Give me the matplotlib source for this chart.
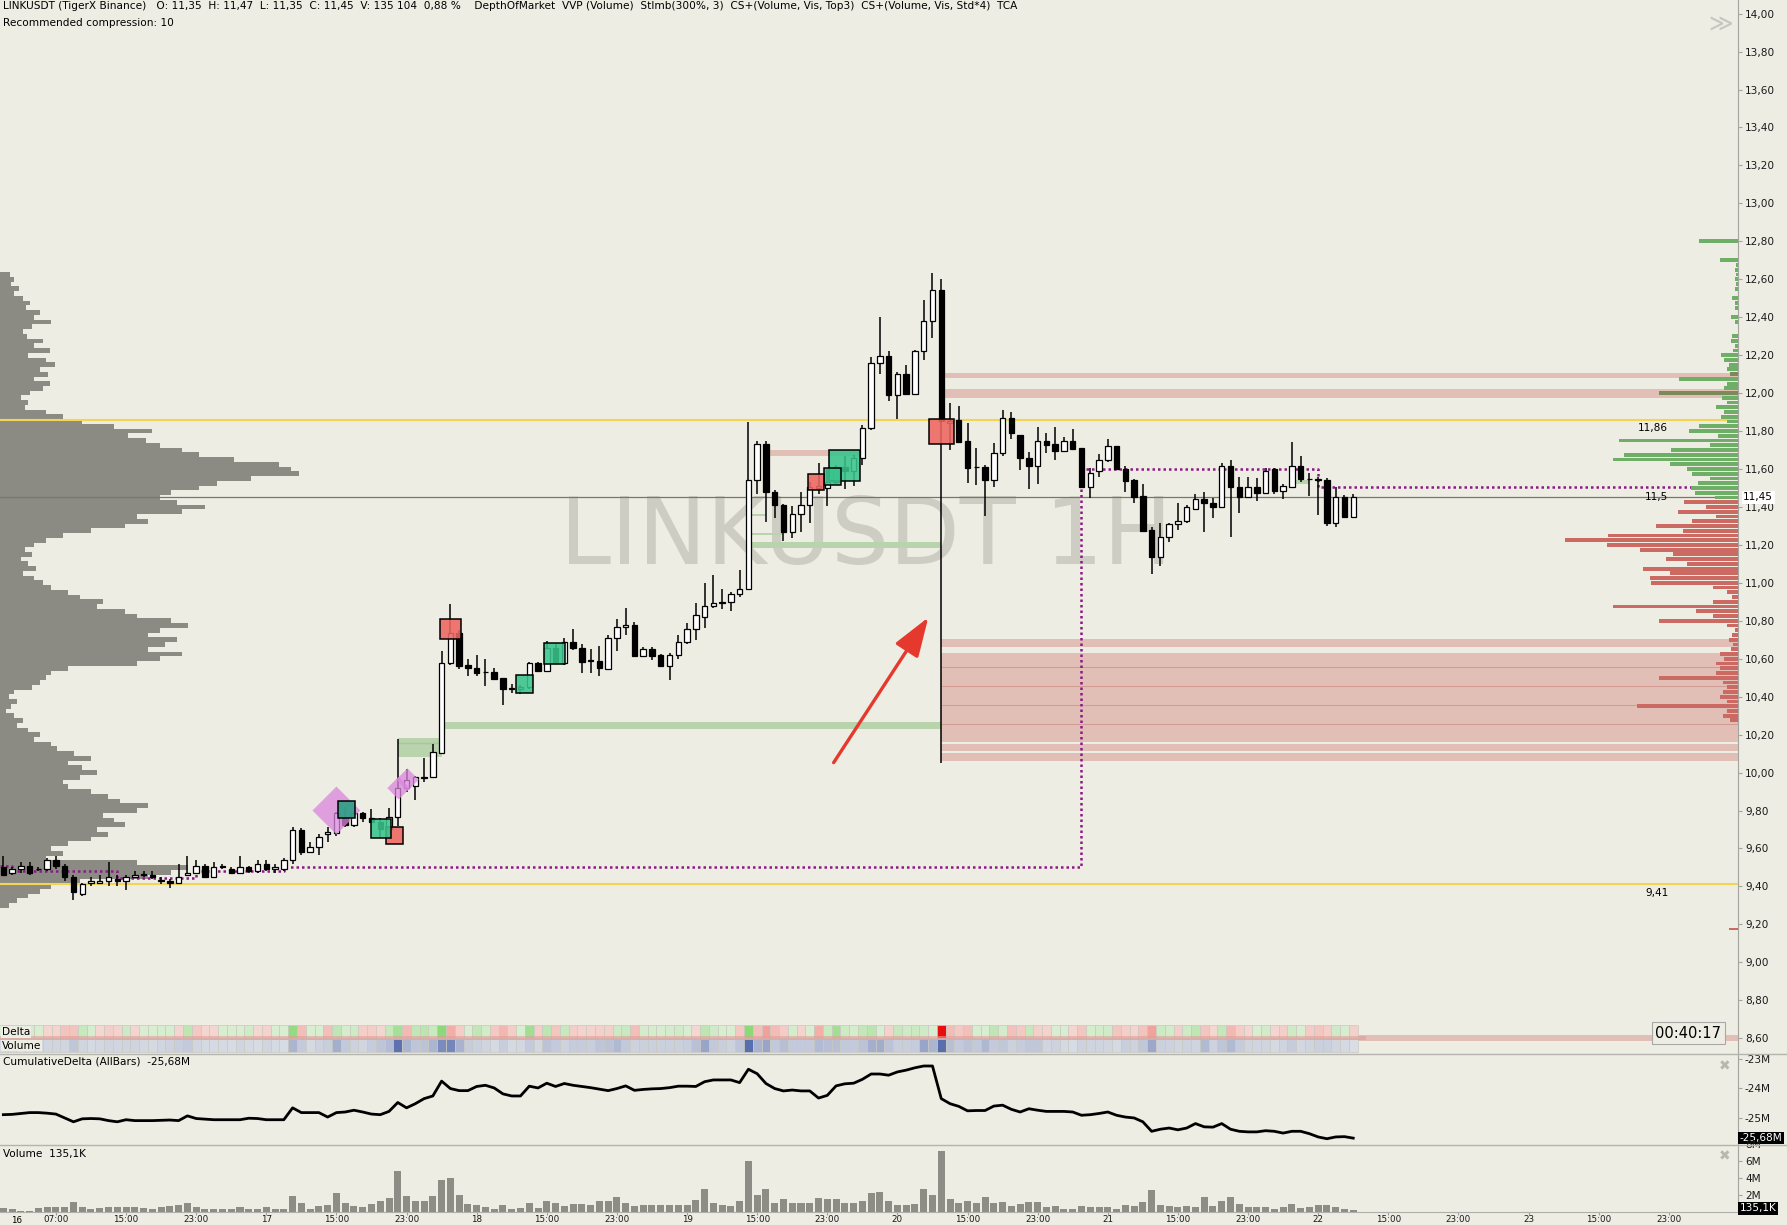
import numpy as np
import matplotlib.pyplot as plt
from matplotlib.patches import Rectangle, Polygon, FancyArrowPatch
from matplotlib.lines import Line2D

BG = '#eeede3'

# ---------------- 1H candles, LINKUSDT ----------------
opens = [
    9.50, 9.47, 9.49, 9.51, 9.49, 9.49, 9.54, 9.51, 9.45, 9.36,
    9.42, 9.42, 9.43, 9.44, 9.43, 9.45, 9.46, 9.46, 9.43, 9.43,
    9.42, 9.46, 9.47, 9.51, 9.45, 9.51, 9.49, 9.47, 9.50, 9.48,
    9.52, 9.49, 9.49, 9.54, 9.697, 9.583, 9.61, 9.674, 9.68, 9.764,
    9.724, 9.785, 9.759, 9.741, 9.70, 9.764, 9.917, 9.93, 9.973, 9.975,
    10.105, 10.576, 10.737, 10.567, 10.55, 10.53, 10.528, 10.497, 10.44, 10.44,
    10.45, 10.576, 10.537, 10.655, 10.576, 10.686, 10.655, 10.588, 10.588, 10.546,
    10.708, 10.766, 10.778, 10.616, 10.651, 10.62, 10.562, 10.62, 10.686, 10.755,
    10.818, 10.877, 10.895, 10.90, 10.94, 10.968, 11.54, 11.73, 11.477, 11.41,
    11.268, 11.364, 11.41, 11.50, 11.50, 11.53, 11.61, 11.59, 11.658, 11.818,
    12.157, 12.197, 11.988, 12.099, 11.997, 12.221, 12.378, 12.542, 11.84, 11.858,
    11.747, 11.61, 11.612, 11.542, 11.686, 11.867, 11.78, 11.656, 11.617, 11.747,
    11.73, 11.696, 11.747, 11.709, 11.507, 11.59, 11.647, 11.721, 11.60, 11.54,
    11.457, 11.278, 11.138, 11.24, 11.308, 11.327, 11.387, 11.44, 11.42, 11.398,
    11.617, 11.507, 11.454, 11.507, 11.475, 11.598, 11.485, 11.507, 11.617, 11.545,
    11.545, 11.54, 11.317, 11.454, 11.348]
highs = [
    9.56, 9.50, 9.53, 9.53, 9.50, 9.55, 9.56, 9.52, 9.46, 9.42,
    9.45, 9.46, 9.53, 9.46, 9.46, 9.48, 9.48, 9.48, 9.45, 9.44,
    9.52, 9.56, 9.54, 9.52, 9.53, 9.52, 9.50, 9.56, 9.51, 9.54,
    9.54, 9.52, 9.55, 9.715, 9.706, 9.636, 9.674, 9.715, 9.794, 9.82,
    9.794, 9.794, 9.806, 9.76, 9.815, 10.175, 10.02, 9.98, 10.075, 10.15,
    10.642, 10.888, 10.75, 10.597, 10.62, 10.597, 10.55, 10.50, 10.465, 10.46,
    10.585, 10.585, 10.693, 10.68, 10.708, 10.757, 10.676, 10.65, 10.667, 10.725,
    10.808, 10.866, 10.795, 10.663, 10.663, 10.625, 10.628, 10.725, 10.79, 10.895,
    10.997, 11.04, 10.968, 10.954, 11.068, 11.85, 11.745, 11.745, 11.49, 11.415,
    11.404, 11.477, 11.531, 11.63, 11.60, 11.62, 11.67, 11.676, 11.83, 12.188,
    12.40, 12.22, 12.112, 12.148, 12.226, 12.493, 12.633, 12.602, 11.95, 11.932,
    11.84, 11.709, 11.621, 11.735, 11.911, 11.902, 11.78, 11.69, 11.823, 11.791,
    11.823, 11.77, 11.809, 11.71, 11.603, 11.679, 11.758, 11.72, 11.616, 11.545,
    11.52, 11.296, 11.318, 11.313, 11.42, 11.41, 11.468, 11.48, 11.445, 11.633,
    11.647, 11.556, 11.556, 11.55, 11.603, 11.603, 11.52, 11.744, 11.668, 11.577,
    11.56, 11.55, 11.507, 11.463, 11.467]
lows = [
    9.455, 9.46, 9.47, 9.46, 9.48, 9.48, 9.49, 9.43, 9.33, 9.35,
    9.40, 9.42, 9.40, 9.40, 9.38, 9.45, 9.45, 9.44, 9.41, 9.39,
    9.42, 9.46, 9.47, 9.45, 9.45, 9.49, 9.47, 9.47, 9.47, 9.47,
    9.48, 9.47, 9.48, 9.52, 9.565, 9.578, 9.565, 9.636, 9.666, 9.715,
    9.711, 9.741, 9.732, 9.653, 9.68, 9.718, 9.90, 9.855, 9.95, 9.97,
    10.098, 10.567, 10.544, 10.509, 10.51, 10.458, 10.488, 10.356, 10.418, 10.414,
    10.44, 10.532, 10.532, 10.57, 10.567, 10.646, 10.523, 10.523, 10.509, 10.541,
    10.642, 10.725, 10.61, 10.61, 10.593, 10.558, 10.49, 10.60, 10.678, 10.699,
    10.76, 10.866, 10.86, 10.854, 10.923, 10.96, 11.47, 11.322, 11.344, 11.222,
    11.235, 11.268, 11.313, 11.47, 11.404, 11.52, 11.495, 11.51, 11.622, 11.803,
    12.10, 11.96, 11.861, 11.99, 11.994, 12.172, 12.29, 10.052, 11.70, 11.735,
    11.524, 11.515, 11.354, 11.503, 11.67, 11.758, 11.594, 11.493, 11.52, 11.682,
    11.647, 11.69, 11.70, 11.498, 11.445, 11.556, 11.638, 11.595, 11.48, 11.422,
    11.27, 11.045, 11.09, 11.217, 11.278, 11.313, 11.384, 11.27, 11.34, 11.393,
    11.243, 11.37, 11.454, 11.433, 11.471, 11.468, 11.44, 11.507, 11.533, 11.458,
    11.357, 11.30, 11.293, 11.343, 11.35]
closes = [
    9.46, 9.49, 9.51, 9.47, 9.49, 9.54, 9.51, 9.45, 9.37, 9.41,
    9.43, 9.43, 9.45, 9.43, 9.45, 9.46, 9.46, 9.45, 9.43, 9.42,
    9.45, 9.47, 9.51, 9.45, 9.50, 9.50, 9.47, 9.50, 9.48, 9.52,
    9.49, 9.50, 9.54, 9.697, 9.583, 9.606, 9.662, 9.688, 9.785, 9.724,
    9.785, 9.759, 9.741, 9.70, 9.764, 9.917, 9.96, 9.975, 9.975, 10.107,
    10.576, 10.737, 10.562, 10.55, 10.527, 10.528, 10.493, 10.439, 10.44, 10.45,
    10.576, 10.537, 10.655, 10.58, 10.686, 10.655, 10.585, 10.588, 10.549, 10.708,
    10.766, 10.778, 10.614, 10.651, 10.616, 10.562, 10.62, 10.686, 10.755, 10.83,
    10.877, 10.895, 10.895, 10.94, 10.968, 11.54, 11.73, 11.477, 11.41, 11.268,
    11.364, 11.41, 11.507, 11.51, 11.53, 11.61, 11.59, 11.658, 11.818, 12.157,
    12.197, 11.988, 12.099, 11.997, 12.221, 12.378, 12.542, 11.852, 11.855, 11.744,
    11.607, 11.608, 11.542, 11.686, 11.867, 11.788, 11.656, 11.617, 11.747, 11.726,
    11.696, 11.747, 11.705, 11.507, 11.577, 11.647, 11.721, 11.60, 11.538, 11.454,
    11.273, 11.138, 11.24, 11.308, 11.327, 11.401, 11.44, 11.419, 11.398, 11.617,
    11.507, 11.454, 11.507, 11.475, 11.589, 11.485, 11.51, 11.617, 11.545, 11.545,
    11.54, 11.317, 11.454, 11.348, 11.45]

# volume per bar, millions
volume_m = [
    0.40, 0.32, 0.12, 0.12, 0.40, 0.48, 0.48, 0.48, 1.16, 0.48,
    0.32, 0.40, 0.56, 0.48, 0.56, 0.56, 0.40, 0.32, 0.48, 0.64,
    0.80, 0.96, 0.48, 0.32, 0.32, 0.32, 0.24, 0.48, 0.32, 0.24,
    0.48, 0.32, 0.24, 1.88, 0.96, 0.32, 0.64, 0.80, 2.20, 1.04,
    0.64, 0.48, 0.88, 1.20, 1.60, 4.80, 1.88, 1.20, 1.28, 1.88,
    3.72, 3.96, 2.00, 0.88, 0.72, 0.56, 0.32, 0.80, 0.32, 0.40,
    0.96, 0.40, 1.28, 0.96, 0.64, 0.88, 0.88, 0.80, 1.20, 1.28,
    1.72, 1.04, 0.64, 0.72, 0.72, 0.72, 0.72, 0.72, 0.80, 1.36,
    2.60, 1.04, 0.80, 0.64, 1.20, 6.00, 2.00, 2.60, 1.04, 1.44,
    0.96, 0.96, 0.96, 1.64, 1.44, 1.44, 1.04, 0.96, 1.28, 2.16,
    2.24, 1.28, 0.80, 0.80, 0.90, 2.60, 1.90, 7.08, 1.44, 0.96,
    1.28, 1.04, 1.76, 0.96, 1.12, 0.68, 0.88, 1.12, 1.12, 0.48,
    0.64, 0.32, 0.24, 0.64, 0.56, 0.56, 0.48, 0.32, 0.80, 0.64,
    1.12, 2.48, 0.72, 0.64, 0.48, 0.64, 0.56, 1.68, 0.64, 1.20,
    1.68, 0.88, 0.56, 0.48, 0.56, 0.32, 0.56, 0.88, 0.40, 0.56,
    0.72, 0.72, 0.48, 0.32, 0.1351]

# cumulative delta, millions
cum_delta_m = [
    -24.89, -24.88, -24.85, -24.82, -24.82, -24.84, -24.87, -25.00, -25.13, -25.03,
    -25.02, -25.03, -25.09, -25.13, -25.06, -25.09, -25.09, -25.09, -25.08, -25.07,
    -25.09, -24.93, -25.02, -25.04, -25.06, -25.06, -25.06, -25.06, -25.01, -25.02,
    -25.06, -25.06, -25.06, -24.66, -24.82, -24.82, -24.82, -24.97, -24.82, -24.80,
    -24.74, -24.80, -24.87, -24.89, -24.78, -24.48, -24.66, -24.52, -24.35, -24.26,
    -23.76, -24.01, -24.08, -24.08, -23.94, -23.90, -23.99, -24.19, -24.26, -24.26,
    -23.93, -23.99, -23.83, -23.94, -23.84, -23.90, -23.94, -23.98, -24.03, -24.08,
    -24.01, -23.92, -24.07, -24.04, -24.02, -24.01, -23.98, -23.93, -23.93, -23.94,
    -23.78, -23.72, -23.72, -23.72, -23.81, -23.36, -23.51, -23.84, -24.01, -24.09,
    -24.06, -24.09, -24.09, -24.33, -24.24, -23.92, -23.85, -23.83, -23.70, -23.52,
    -23.52, -23.56, -23.45, -23.39, -23.31, -23.25, -23.25, -24.35, -24.52, -24.61,
    -24.76, -24.75, -24.75, -24.60, -24.57, -24.71, -24.80, -24.69, -24.74, -24.78,
    -24.78, -24.78, -24.80, -24.91, -24.89, -24.85, -24.80, -24.91, -24.97, -25.00,
    -25.13, -25.45, -25.38, -25.34, -25.40, -25.34, -25.19, -25.30, -25.31, -25.19,
    -25.38, -25.45, -25.47, -25.47, -25.43, -25.45, -25.51, -25.45, -25.45, -25.53,
    -25.64, -25.70, -25.64, -25.63, -25.68]

# visible-range volume profile (left side), levels every 0.025 from 12.625 down
vvp_top, vvp_step = 12.625, 0.025
vvp_volume = [
    9, 12, 10, 17, 12, 20, 26, 23, 35, 30,
    45, 28, 20, 24, 38, 30, 44, 25, 40, 48,
    35, 42, 30, 44, 38, 26, 18, 25, 22, 40,
    55, 72, 100, 133, 112, 128, 140, 160, 175, 205,
    245, 255, 262, 220, 190, 175, 150, 140, 155, 180,
    160, 120, 130, 110, 80, 55, 40, 30, 22, 28,
    18, 25, 32, 20, 30, 38, 45, 60, 70, 90,
    85, 110, 120, 150, 165, 140, 130, 155, 145, 130,
    160, 140, 120, 60, 45, 40, 35, 28, 12, 8,
    15, 10, 5, 12, 20, 15, 25, 35, 30, 45,
    50, 65, 80, 60, 72, 85, 70, 55, 60, 80,
    95, 105, 130, 120, 90, 100, 110, 85, 95, 80,
    60, 45, 55, 40, 120, 165, 150, 130, 70, 45,
    35, 25, 15, 8]

# depth of market (right side), levels every 0.025 from 12.80 down
dom_top, dom_step = 12.80, 0.025
dom_size = [
    34, 0, 0, 0, 16, 2, 3, 2, 3, 2,
    3, 0, 5, 3, 3, 0, 6, 3, 0, 0,
    5, 6, 3, 4, 15, 12, 8, 10, 7, 52,
    10, 12, 69, 14, 10, 19, 12, 15, 10, 34,
    43, 18, 104, 25, 59, 100, 110, 60, 45, 40,
    25, 35, 41, 38, 20, 47, 28, 53, 19, 40,
    72, 48, 114, 152, 115, 86, 57, 63, 45, 83,
    60, 77, 76, 22, 10, 5, 22, 110, 37, 22,
    69, 10, 3, 5, 8, 4, 6, 16, 12, 19,
    16, 19, 69, 13, 10, 13, 16, 10, 89, 10,
    13, 7]
dom_far_price = [9.175]
dom_far_size = [8]

last_price = 11.45
level_hi, level_lo = 11.86, 9.41

# cluster-search zones (start bar, low, high[, end bar])
cs_red_zones = [(107, 12.078, 12.105), (107, 11.976, 12.024), (107, 10.661, 10.703),
                (107, 10.16, 10.631), (107, 10.113, 10.152), (107, 10.06, 10.104),
                (87, 11.67, 11.70, 98)]
cs_red_inner = [10.555, 10.455, 10.355, 10.255]
band_8_60 = (8.585, 8.615)
imb_green_zones = [(50, 107, 10.228, 10.264), (45, 50, 10.084, 10.18), (85, 107, 11.183, 11.213),
                   (85, 87, 11.35, 11.365), (85, 89, 11.25, 11.265), (147, 149, 11.52, 11.54)]

# value-area step line (bar where it starts, price)
va_start = [-0.4, 1, 13, 22, 32, 123, 150]
va_level = [9.505, 9.48, 9.445, 9.48, 9.50, 11.60, 11.503]

# cluster squares (bar, price, size px, kind) in drawing order
squares = [(44.6, 9.667, 15, 'red'), (43.1, 9.706, 17, 'green'), (39.2, 9.805, 15, 'teal'),
           (51.0, 10.757, 18, 'red'), (59.5, 10.467, 15, 'green'), (62.9, 10.628, 18, 'green'),
           (96.0, 11.62, 27, 'green'), (94.6, 11.56, 15, 'green'), (92.7, 11.531, 14, 'red'),
           (107.0, 11.80, 22, 'red')]
diamonds = [(38.0, 9.80, 21), (45.1, 9.918, 10), (46.1, 9.962, 10)]
arrow_tail = (94.55, 10.04)
arrow_head = (105.7, 10.83)

time_labels = ['07:00', '15:00', '23:00', '17', '15:00', '23:00', '18', '15:00', '23:00',
               '19', '15:00', '23:00', '20', '15:00', '23:00', '21', '15:00', '23:00',
               '22', '15:00', '23:00', '23', '15:00', '23:00']

# scale of the reference picture: px per bar and px per 1.0 of price
PX_BAR, PX_PRICE = 7.69, 166.5
X_LEFT, X_RIGHT = -0.38, 197.9

def fmt(v, nd=2):
    return f'{v:.{nd}f}'.replace('.', ',')

o, h, l, c = map(np.array, (opens, highs, lows, closes))
x = np.arange(len(o))

fig = plt.figure(figsize=(17.87, 12.25), dpi=100)
fig.patch.set_facecolor(BG)
ax = fig.add_axes([0, 0.1395, 0.9726, 0.8605])
axc = fig.add_axes([0, 0.0651, 0.9726, 0.0744])
axv = fig.add_axes([0, 0.0110, 0.9726, 0.0541])

for a in (ax, axc, axv):
    a.set_facecolor(BG)
    for s in ('top', 'left', 'bottom'):
        a.spines[s].set_visible(False)
    a.spines['right'].set_color('#a4a4a0')
    a.yaxis.tick_right()
    a.tick_params(axis='y', length=3, pad=2, labelsize=7.6, colors='#a4a4a0', labelcolor='#1a1a1a')
    a.set_xlim(X_LEFT, X_RIGHT)
    a.tick_params(axis='x', bottom=False, labelbottom=False)

# ---------- main price panel ----------
ax.set_ylim(8.516, 14.072)
yt = np.round(np.arange(8.6, 14.001, 0.2), 2)
ax.set_yticks(yt)
ax.set_yticklabels([fmt(v) for v in yt])

ax.text(98.4, 11.10, 'LINKUSDT 1H', fontsize=66, color='#cdcdc4', ha='center',
        va='baseline', zorder=0.5)

# left volume profile
vvp_prices = vvp_top - vvp_step * np.arange(len(vvp_volume))
ax.barh(vvp_prices, np.array(vvp_volume) / PX_BAR, height=vvp_step, left=X_LEFT,
        color='#8b8b83', lw=0, zorder=1)

# zones
for z in cs_red_zones:
    x1 = z[3] if len(z) > 3 else X_RIGHT
    ax.add_patch(Rectangle((z[0], z[1]), x1 - z[0], z[2] - z[1], facecolor='#e2bfb6',
                           lw=0, zorder=1.5))
for p in cs_red_inner:
    ax.hlines(p, 107, X_RIGHT, color='#d39b92', lw=0.8, zorder=1.6)
ax.add_patch(Rectangle((X_LEFT, band_8_60[0]), X_RIGHT - X_LEFT, band_8_60[1] - band_8_60[0],
                       facecolor='#e2bfb6', lw=0, zorder=1.5))
for x0, x1, lo, hi in imb_green_zones:
    ax.add_patch(Rectangle((x0, lo), x1 - x0, hi - lo, facecolor='#b9d3ad', lw=0, zorder=1.5))
ax.hlines(10.154, 45, 50, color='#a8c79c', lw=1, zorder=1.6)

# key levels
ax.axhline(level_hi, color='#f3d551', lw=1.5, zorder=2)
ax.axhline(level_lo, color='#f3d551', lw=1.5, zorder=2)
ax.axhline(last_price, color='#77776f', lw=0.9, zorder=2)
ax.text(188.2, level_hi - 0.045, fmt(level_hi), fontsize=7.6, ha='center', va='center', zorder=6)
ax.text(188.6, level_lo - 0.047, fmt(level_lo), fontsize=7.6, ha='center', va='center', zorder=6)
ax.text(188.6, last_price, fmt(11.5, 1), fontsize=7.6, ha='center', va='center', zorder=6)

# value area step line
ax.step(va_start + [X_RIGHT], va_level + [va_level[-1]], where='post', color='#8a1a86',
        lw=1.8, ls=(0, (1, 1.2)), zorder=3)

# depth of market
dom_prices = dom_top - dom_step * np.arange(len(dom_size))
dom_w = np.array(dom_size) / PX_BAR
dom_col = []
for p in dom_prices:
    in_band = any(z[1] <= p <= z[2] for z in cs_red_zones[:2])
    if in_band:
        dom_col.append('#7c8a57')
    elif p >= last_price:
        dom_col.append('#6fae66')
    else:
        dom_col.append('#cb6a62')
ax.barh(dom_prices, dom_w, height=dom_step * 0.8, left=X_RIGHT - dom_w, color=dom_col, lw=0,
        zorder=3)
fw = np.array(dom_far_size) / PX_BAR
ax.barh(dom_far_price, fw, height=0.012, left=X_RIGHT - fw, color='#cb6a62', lw=0, zorder=3)

# candles
ax.vlines(x, l, h, color='black', lw=1.1, zorder=4)
up = c >= o
bb = np.minimum(o, c)
bh = np.maximum(np.abs(c - o), 0.004)
ax.bar(x[up], bh[up], bottom=bb[up], width=0.62, facecolor='white', edgecolor='black',
       lw=0.9, zorder=5)
ax.bar(x[~up], bh[~up], bottom=bb[~up], width=0.62, facecolor='black', edgecolor='black',
       lw=0.9, zorder=5)

# diamonds and cluster squares
for xi, pi, r in diamonds:
    dx, dy = r / PX_BAR, r / PX_PRICE
    ax.add_patch(Polygon([(xi - dx, pi), (xi, pi + dy), (xi + dx, pi), (xi, pi - dy)],
                         closed=True, facecolor=(0.86, 0.52, 0.87, 0.75), lw=0, zorder=6))
sq_col = {'red': (0.93, 0.40, 0.38, 0.88), 'green': (0.22, 0.77, 0.55, 0.88),
          'teal': (0.17, 0.62, 0.52, 0.9)}
for xi, pi, s, kind in squares:
    w, hh = s / PX_BAR, s / PX_PRICE
    ax.add_patch(Rectangle((xi - w / 2, pi - hh / 2), w, hh, facecolor=sq_col[kind],
                           edgecolor='black', lw=1.1, zorder=6))

ax.add_patch(FancyArrowPatch(arrow_tail, arrow_head,
                             arrowstyle='-|>,head_length=1.1,head_width=0.38',
                             mutation_scale=22, color='#e6392e', lw=2.4, zorder=7))

# delta / volume strip
delta = np.diff(np.array(cum_delta_m), prepend=cum_delta_m[0])
vol = np.array(volume_m)
for i in x:
    d = delta[i]
    t = min(1.0, abs(d) / 0.45)
    if d >= 0:
        dc = (0.85 - 0.30 * t, 0.93 - 0.08 * t, 0.82 - 0.34 * t)
    elif -d > 0.8:
        dc = (0.92, 0.05, 0.05)
    else:
        dc = (0.96 - 0.02 * t, 0.85 - 0.30 * t, 0.83 - 0.31 * t)
    tv = min(1.0, vol[i] / 5.0)
    vc = (0.87 - 0.52 * tv, 0.88 - 0.45 * tv, 0.90 - 0.22 * tv)
    ax.add_patch(Rectangle((i - 0.5, 8.600), 1, 0.067, facecolor=dc, edgecolor='#c9c9c1',
                           lw=0.5, zorder=7))
    ax.add_patch(Rectangle((i - 0.5, 8.528), 1, 0.067, facecolor=vc, edgecolor='#c9c9c1',
                           lw=0.5, zorder=7))
ax.add_patch(Rectangle((X_LEFT, band_8_60[0] + 0.008), len(x) + 0.5 - X_LEFT, 0.016,
                       facecolor=(0.88, 0.62, 0.60, 0.6), lw=0, zorder=7.5))
ax.text(-0.2, 8.634, 'Delta', fontsize=7.6, va='center', zorder=8,
        bbox=dict(facecolor=BG, edgecolor='none', pad=0.6))
ax.text(-0.2, 8.561, 'Volume', fontsize=7.6, va='center', zorder=8,
        bbox=dict(facecolor=BG, edgecolor='none', pad=0.6))

ax.text(192.2, 8.627, '00:40:17', fontsize=10.5, ha='center', va='center', zorder=8,
        bbox=dict(facecolor=BG, edgecolor='#a8a8a4', pad=2.5, lw=0.8))
ax.text(195.9, 13.94, '\u226b', fontsize=17, color='#c6c6c0', ha='center', va='center')
ax.text(1.003, last_price, fmt(last_price), transform=ax.get_yaxis_transform(), fontsize=7.6,
        ha='left', va='center', zorder=9,
        bbox=dict(facecolor='white', edgecolor='none', pad=1.2))

fig.text(0.0015, 0.999, 'LINKUSDT (TigerX Binance)   O: ' + fmt(o[-1]) + '  H: ' + fmt(h[-1])
         + '  L: ' + fmt(l[-1]) + '  C: ' + fmt(c[-1]) + '  V: 135 104  0,88 %    DepthOfMarket  '
         'VVP (Volume)  StImb(300%, 3)  CS+(Volume, Vis, Top3)  CS+(Volume, Vis, Std*4)  TCA',
         fontsize=7.6, va='top', ha='left')
fig.text(0.0015, 0.985, 'Recommended compression: 10', fontsize=7.6, va='top', ha='left')

# ---------- cumulative delta panel ----------
axc.plot(x, cum_delta_m, color='black', lw=2)
axc.set_ylim(-25.92, -22.85)
axc.set_yticks([-25, -24, -23])
axc.set_yticklabels(['-25M', '-24M', '-23M'])
axc.text(0.002, 0.92, 'CumulativeDelta (AllBars)  ' + fmt(cum_delta_m[-1]) + 'M',
         transform=axc.transAxes, fontsize=7.6, va='center')
axc.text(1.001, cum_delta_m[-1], fmt(cum_delta_m[-1]) + 'M', transform=axc.get_yaxis_transform(),
         fontsize=7.6, color='white', ha='left', va='center', zorder=9,
         bbox=dict(facecolor='black', edgecolor='none', pad=1.0), clip_on=False)
axc.text(0.992, 0.86, '\u2716', transform=axc.transAxes, fontsize=10, color='#b8b8b2',
         ha='center', va='center')

# ---------- volume panel ----------
axv.bar(x, vol, width=0.8, color='#8d8d85', lw=0)
axv.set_ylim(0, 7.8)
axv.set_yticks([2, 4, 6])
axv.set_yticklabels(['2M', '4M', '6M'])
axv.text(0.002, 0.87, 'Volume  ' + fmt(vol[-1] * 1000, 1) + 'K', transform=axv.transAxes,
         fontsize=7.6, va='center')
axv.text(1.001, 0.38, fmt(vol[-1] * 1000, 1) + 'K', transform=axv.get_yaxis_transform(),
         fontsize=7.6, color='white', ha='left', va='center', zorder=9,
         bbox=dict(facecolor='black', edgecolor='none', pad=1.0), clip_on=False)
axv.text(1.004, 7.8, '8M', transform=axv.get_yaxis_transform(), fontsize=7.6, ha='left',
         va='center', color='#1a1a1a')
axv.text(0.992, 0.83, '\u2716', transform=axv.transAxes, fontsize=10, color='#b8b8b2',
         ha='center', va='center')
axv.spines['bottom'].set_visible(True)
axv.spines['bottom'].set_color('#b0b0aa')
tick_pos = 6 + 8 * np.arange(len(time_labels))
axv.set_xticks(tick_pos)
axv.set_xticklabels(time_labels)
axv.tick_params(axis='x', bottom=True, labelbottom=True, length=2, pad=0.5, labelsize=6.3,
                colors='#a0a0a0', labelcolor='#1a1a1a')
axv.text(1.5, -0.07, '16', transform=axv.get_xaxis_transform(), fontsize=6.3, ha='center',
         va='top', clip_on=False)

# panel separators
for yy in (0.1395, 0.0651):
    fig.add_artist(Line2D([0, 1], [yy, yy], color='#b4b4ae', lw=1, transform=fig.transFigure))

fig.savefig('out.png', dpi=100, facecolor=BG)
